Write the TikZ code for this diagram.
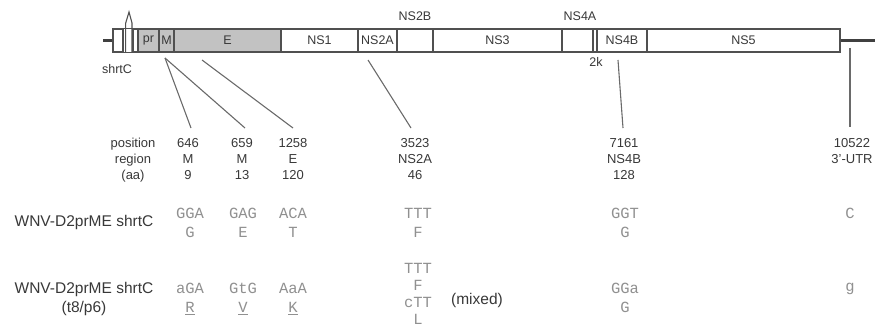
\documentclass[tikz,border=0pt]{standalone}
\usepackage{fontspec}
\setmainfont{Liberation Sans}
\newfontfamily\codonfont{Liberation Mono}
\usetikzlibrary{calc}
\definecolor{outline}{HTML}{505050}
\definecolor{protfill}{HTML}{C2C2C2}
\definecolor{codon}{HTML}{909090}
\definecolor{lbl}{HTML}{383838}
\tikzset{
  seg/.style={draw=outline, line width=1.1pt, minimum height=23pt, inner sep=0pt,
    font=\fontsize{12.5}{12.5}\selectfont, text=lbl},
  structseg/.style={seg, fill=protfill},
  lead/.style={draw=outline!85, line width=1.1pt},
  barlbl/.style={font=\fontsize{12.5}{12.5}\selectfont, text=lbl, inner sep=0pt},
  poslbl/.style={align=center, anchor=north, font=\fontsize{13}{16}\selectfont, text=lbl, inner sep=0pt},
  rowlbl/.style={align=center, font=\fontsize{15.5}{19}\selectfont, text=lbl, inner sep=0pt},
  codonlbl/.style={align=center, anchor=north, font=\codonfont\fontsize{15.5}{19}\selectfont, text=codon, inner sep=0pt},
  codonstack/.style={codonlbl, font=\codonfont\fontsize{15.5}{17}\selectfont}
}
\begin{document}
\begin{tikzpicture}[x=1pt,y=-1pt]
\useasboundingbox (0,0) rectangle (875,326);

% ---- genome bar ----
\node[seg, minimum width=10pt] (cap) at (118,40.5) {};
\node[seg, minimum width=5pt] (cbox) at (135.5,40.5) {};
\node[structseg, minimum width=21pt] (pr) at (148.5,40.5) {pr};
\node[structseg, minimum width=15pt] (m) at (166.5,40.5) {M};
\node[structseg, minimum width=107pt] (e) at (227.5,40.5) {E};
\node[seg, minimum width=77pt] (ns1) at (319.5,40.5) {NS1};
\node[seg, minimum width=39pt] (ns2a) at (377.5,40.5) {NS2A};
\node[seg, minimum width=36pt] (ns2b) at (415,40.5) {};
\node[seg, minimum width=129pt] (ns3) at (497.5,40.5) {NS3};
\node[seg, minimum width=31pt] (ns4a) at (577.5,40.5) {};
\node[seg, minimum width=4pt] (k2) at (595,40.5) {};
\node[seg, minimum width=50pt] (ns4b) at (622,40.5) {NS4B};
\node[seg, minimum width=193pt] (ns5) at (743.5,40.5) {NS5};

% truncated capsid spike between the two capsid boxes
\draw[outline, line width=1.1pt, line join=miter]
  (cap.south east) ++(2,0) -- ++(0,-29) -- (129,12) -- (132,23) -- (132,52);
\draw[outline, line width=1.1pt] (cap.north east) -- (cbox.north west);
\draw[outline, line width=1.1pt] (cap.south east) -- (cbox.south west);

% 5' and 3' untranslated ends
\coordinate (utr5) at (103,40.5);
\coordinate (utr3) at (875,40.5);
\draw[outline!80!black, line width=3pt] (utr5) -- (cap.west);
\draw[outline!80!black, line width=3pt] (ns5.east) -- (utr3);

% labels around the bar
\node[barlbl] (lshrtc) at (117,69) {shrtC};
\node[barlbl] (lns2b) at (415,16) {NS2B};
\node[barlbl] (lns4a) at (580,16) {NS4A};
\node[barlbl] (l2k) at (596,62) {2k};

% ---- mutation positions ----
\node[poslbl] (phead) at (133,138) {position\\region\\(aa)};
\node[poslbl] (p646) at (188,138) {646\\M\\9};
\node[poslbl] (p659) at (242,138) {659\\M\\13};
\node[poslbl] (p1258) at (293,138) {1258\\E\\120};
\node[poslbl] (p3523) at (415,138) {3523\\NS2A\\46};
\node[poslbl] (p7161) at (624,138) {7161\\NS4B\\128};
\node[poslbl] (p10522) at (852,138) {10522\\3'-UTR};

% leader lines from the genome to each position
\coordinate (tm) at (165,58);
\coordinate (te) at (202,60);
\coordinate (tns2a) at (368,60);
\coordinate (tns4b) at (618,60);
\coordinate (tutr) at (850,48);
\draw[lead] (tm) -- ($(p646.north)+(3,-10)$);
\draw[lead] (tm) -- ($(p659.north)+(3,-10)$);
\draw[lead] (te) -- ($(p1258.north)+(0,-10)$);
\draw[lead] (tns2a) -- ($(p3523.north)+(-4,-10)$);
\draw[lead] (tns4b) -- ($(p7161.north)+(-1,-10)$);
\draw[lead] (tutr) -- ($(p10522.north)+(-2,-11)$);

% ---- parental virus ----
\node[rowlbl] (row1) at (84,222) {WNV-D2prME shrtC};
\node[codonlbl] (c1a) at (190,208) {GGA\\G};
\node[codonlbl] (c1b) at (243,208) {GAG\\E};
\node[codonlbl] (c1c) at (293,208) {ACA\\T};
\node[codonlbl] (c1d) at (418,208) {TTT\\F};
\node[codonlbl] (c1e) at (625,208) {GGT\\G};
\node[codonlbl] (c1f) at (850,208) {C};

% ---- passaged virus ----
\node[rowlbl, anchor=north] (row2) at (84,282) {WNV-D2prME shrtC\\(t8/p6)};
\node[codonlbl] (c2a) at (190,283) {aGA\\\underline{R}};
\node[codonlbl] (c2b) at (243,283) {GtG\\\underline{V}};
\node[codonlbl] (c2c) at (293,283) {AaA\\\underline{K}};
\node[codonstack] (c2d) at (418,263) {TTT\\F\\cTT\\\underline{L}};
\node[rowlbl] (mixed) at (477,300) {(mixed)};
\node[codonlbl] (c2e) at (625,283) {GGa\\G};
\node[codonlbl] (c2f) at (850,283) {g};
\end{tikzpicture}
\end{document}
